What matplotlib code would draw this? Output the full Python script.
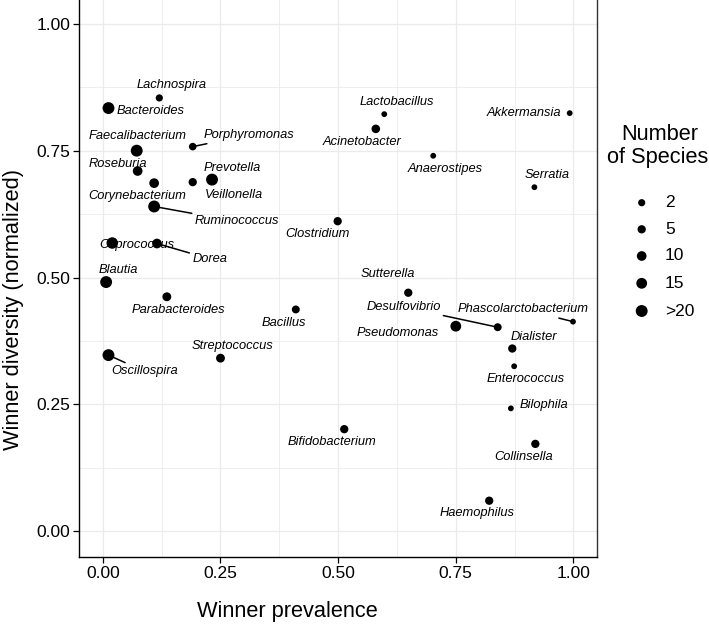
import matplotlib
matplotlib.use("Agg")
import matplotlib.pyplot as plt
import numpy as np

plt.rcParams['font.family'] = ['Liberation Sans', 'DejaVu Sans']

# ---------------- data ----------------
genera = ["Lachnospira", "Bacteroides", "Faecalibacterium", "Roseburia", "Corynebacterium",
          "Prevotella", "Veillonella", "Porphyromonas", "Ruminococcus", "Coprococcus",
          "Dorea", "Blautia", "Clostridium", "Parabacteroides", "Bacillus",
          "Oscillospira", "Streptococcus", "Lactobacillus", "Akkermansia", "Acinetobacter",
          "Anaerostipes", "Serratia", "Sutterella", "Pseudomonas", "Desulfovibrio",
          "Phascolarctobacterium", "Dialister", "Enterococcus", "Bilophila", "Collinsella",
          "Haemophilus", "Bifidobacterium"]
prevalence = [0.120, 0.012, 0.072, 0.074, 0.109,
              0.191, 0.232, 0.191, 0.109, 0.020,
              0.115, 0.007, 0.499, 0.136, 0.410,
              0.012, 0.250, 0.598, 0.992, 0.580,
              0.702, 0.917, 0.649, 0.750, 0.839,
              0.999, 0.870, 0.874, 0.867, 0.919,
              0.821, 0.513]
diversity = [0.854, 0.834, 0.750, 0.710, 0.686,
             0.688, 0.693, 0.758, 0.640, 0.568,
             0.567, 0.491, 0.611, 0.462, 0.437,
             0.347, 0.341, 0.822, 0.824, 0.793,
             0.740, 0.678, 0.470, 0.404, 0.402,
             0.413, 0.360, 0.325, 0.242, 0.172,
             0.060, 0.201]
n_species = [2, 25, 25, 10, 10,
             5, 20, 3, 22, 18,
             10, 25, 5, 7, 4,
             20, 7, 1, 1, 6,
             1, 1, 5, 15, 4,
             1, 5, 1, 1, 5,
             5, 5]
legend_breaks = [2, 5, 10, 15, 20]
legend_labels = ["2", "5", "10", "15", ">20"]
x_ticks = [0.00, 0.25, 0.50, 0.75, 1.00]
y_ticks = [0.00, 0.25, 0.50, 0.75, 1.00]

# ---------------- styling / layout ----------------
W, H = 709, 625
DPI = 100
size_domain = [1, 2, 5, 10, 15, 20]
size_diam_px = [5.8, 7.2, 8.3, 9.7, 10.8, 11.9]


def marker_area(n):
    d_px = np.interp(n, size_domain, size_diam_px)
    return (d_px * 72.0 / DPI) ** 2


# label offsets in image pixels (dx right, dy down) and whether a segment is drawn
label_layout = {
    "Lachnospira": (12.7, -12.7, False),
    "Bacteroides": (42.4, 3.4, False),
    "Faecalibacterium": (0.6, -14.3, False),
    "Roseburia": (-20, -7, False),
    "Corynebacterium": (-16.7, 12.7, False),
    "Prevotella": (39.6, -14, False),
    "Veillonella": (21.6, 15, False),
    "Porphyromonas": (56.6, -11.7, True),
    "Ruminococcus": (82.7, 15, True),
    "Coprococcus": (24.4, 1.7, False),
    "Dorea": (52.6, 15.3, True),
    "Blautia": (12.3, -12, False),
    "Clostridium": (-20, 13.3, False),
    "Parabacteroides": (11.6, 13.7, False),
    "Bacillus": (-12, 13.3, False),
    "Oscillospira": (36, 16.3, True),
    "Streptococcus": (12, -12.3, False),
    "Lactobacillus": (12.7, -12, False),
    "Akkermansia": (-46, 0, False),
    "Acinetobacter": (-13.4, 13.3, False),
    "Anaerostipes": (11.6, 13.3, False),
    "Serratia": (12.7, -12.3, False),
    "Sutterella": (-20, -18.3, False),
    "Pseudomonas": (-58, 6.6, False),
    "Desulfovibrio": (-94.3, -20.2, True),
    "Phascolarctobacterium": (-49.4, -12.3, True),
    "Dialister": (21.3, -12, False),
    "Enterococcus": (11.3, 13, False),
    "Bilophila": (33, -3.3, False),
    "Collinsella": (-11.4, 13.3, False),
    "Haemophilus": (-12, 12.6, False),
    "Bifidobacterium": (-12, 13, False),
}

fig = plt.figure(figsize=(W / DPI, H / DPI), dpi=DPI)
ax_left, ax_right, ax_top, ax_bottom = 79.3, 597.0, -1.5, 556.5
ax = fig.add_axes([ax_left / W, (H - ax_bottom) / H,
                   (ax_right - ax_left) / W, (ax_bottom - ax_top) / H])
ax.set_xlim(-0.05, 1.05)
ax.set_ylim(-0.05, 1.05)

# grid (theme_bw-like)
ax.set_xticks(x_ticks)
ax.set_yticks(y_ticks)
ax.set_xticks([0.125, 0.375, 0.625, 0.875], minor=True)
ax.set_yticks([0.125, 0.375, 0.625, 0.875], minor=True)
ax.grid(True, which='major', color='#EBEBEB', lw=0.9)
ax.grid(True, which='minor', color='#EBEBEB', lw=0.6)
ax.set_axisbelow(True)
ax.tick_params(which='minor', length=0)
ax.tick_params(which='major', length=4, width=0.9, color='black',
               labelsize=12.5, labelcolor='black', pad=2.5)
ax.set_xticklabels([f"{t:.2f}" for t in x_ticks])
ax.set_yticklabels([f"{t:.2f}" for t in y_ticks])
for s in ['left', 'bottom']:
    ax.spines[s].set_color('black')
    ax.spines[s].set_linewidth(1.0)
for s in ['right', 'top']:
    ax.spines[s].set_color('#333333')
    ax.spines[s].set_linewidth(1.0)

# points
ax.scatter(prevalence, diversity, s=[marker_area(n) for n in n_species],
           color='black', edgecolors='none', zorder=3)

# labels
for g, x, y in zip(genera, prevalence, diversity):
    dx, dy, seg = label_layout[g]
    kw = {}
    if seg:
        kw['arrowprops'] = dict(arrowstyle='-', color='black', lw=1.1,
                                shrinkA=0, shrinkB=0)
    ax.annotate(g, (x, y), xytext=(dx, -dy), textcoords='offset pixels',
                ha='center', va='center', fontsize=9.3, style='italic',
                color='black', zorder=4, **kw)

# axis titles
ax.set_xlabel("Winner prevalence", fontsize=15.7)
ax.set_ylabel("Winner diversity (normalized)", fontsize=15.7)
ax_w = ax_right - ax_left
ax_h = ax_bottom - ax_top
ax.xaxis.set_label_coords((287 - ax_left) / ax_w, (ax_bottom - 612) / ax_h)
ax.xaxis.label.set_va('center')
ax.yaxis.set_label_coords((14 - ax_left) / ax_w, (ax_bottom - 309) / ax_h)
ax.yaxis.label.set_va('center')

# legend (size legend)
fig.text(660 / W, 1 - 135 / H, "Number", fontsize=15.7, ha='center', va='center')
fig.text(658 / W, 1 - 157 / H, "of Species", fontsize=15.7, ha='center', va='center')
lax = fig.add_axes([0, 0, 1, 1], facecolor='none')
lax.set_xlim(0, W)
lax.set_ylim(H, 0)
lax.axis('off')
leg_y = [202.7, 229.3, 256.0, 283.3, 311.0]
for b, lab, yy in zip(legend_breaks, legend_labels, leg_y):
    lax.scatter([641.7], [yy], s=marker_area(b), color='black', edgecolors='none')
    lax.text(665, yy, lab, fontsize=12.5, ha='left', va='center')

fig.savefig("out.png", dpi=DPI)
